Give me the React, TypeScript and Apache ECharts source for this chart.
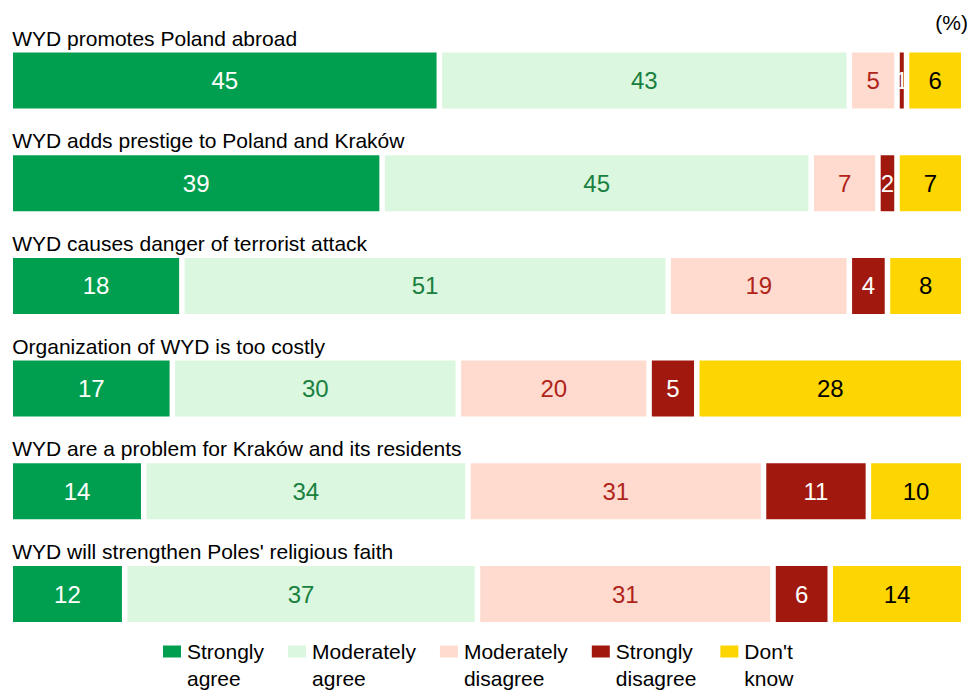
import React, { useEffect, useRef } from "react";
import * as echarts from "echarts";

const categories = [
  "WYD promotes Poland abroad",
  "WYD adds prestige to Poland and Kraków",
  "WYD causes danger of terrorist attack",
  "Organization of WYD is too costly",
  "WYD are a problem for Kraków and its residents",
  "WYD will strengthen Poles' religious faith",
];

const seriesNames = [
  "Strongly agree",
  "Moderately agree",
  "Moderately disagree",
  "Strongly disagree",
  "Don't know",
];

const stronglyAgree = [45, 39, 18, 17, 14, 12];
const moderatelyAgree = [43, 45, 51, 30, 34, 37];
const moderatelyDisagree = [5, 7, 19, 20, 31, 31];
const stronglyDisagree = [1, 2, 4, 5, 11, 6];
const dontKnow = [6, 7, 8, 28, 10, 14];

const seriesValues = [
  stronglyAgree,
  moderatelyAgree,
  moderatelyDisagree,
  stronglyDisagree,
  dontKnow,
];

const fillColors = ["#009F4F", "#DBF7DF", "#FFDBCF", "#A1190E", "#FDD500"];
const labelColors = ["#FFFFFF", "#1A8040", "#B0241A", "#FFFFFF", "#000000"];

const FONT = "'Liberation Sans', Arial, sans-serif";

export default function App() {
  const ref = useRef<HTMLDivElement>(null);

  useEffect(() => {
    if (!ref.current) return;
    const chart = echarts.init(ref.current, undefined, { renderer: "svg" });
    const option: any = {
      animation: false,
      backgroundColor: "#FFFFFF",
      textStyle: { fontFamily: FONT },
      title: {
        text: "(%)",
        right: 3,
        top: 12,
        padding: 0,
        textStyle: { fontSize: 21, fontWeight: "normal", color: "#000", fontFamily: FONT },
      },
      legend: {
        data: seriesNames,
        left: 156,
        top: 606,
        itemWidth: 20,
        itemHeight: 14,
        itemGap: 22,
        icon: "rect",
        selectedMode: false,
        formatter: (name: string) => "\n" + name.replace(" ", "\n"),
        textStyle: {
          fontSize: 21,
          fontFamily: FONT,
          color: "#000",
          lineHeight: 27,
        },
      },
      grid: {
        left: 10.25,
        right: 7.25,
        top: 29.15,
        bottom: 44.65,
        containLabel: false,
        outerBoundsMode: "none",
      },
      xAxis: {
        type: "value",
        min: 0,
        max: 100,
        show: false,
      },
      yAxis: {
        type: "category",
        data: categories,
        inverse: true,
        axisLine: { show: false },
        axisTick: { show: false },
        splitLine: { show: false },
        z: 10,
        axisLabel: {
          inside: true,
          interval: 0,
          margin: 2,
          align: "left",
          verticalAlign: "bottom",
          lineHeight: 85,
          fontSize: 21,
          fontFamily: FONT,
          color: "#000",
        },
      },
      series: seriesNames.map((name, i) => ({
        name,
        type: "bar",
        stack: "total",
        barWidth: 61.5,
        data: seriesValues[i],
        itemStyle: {
          color: fillColors[i],
          borderColor: "#FFFFFF",
          borderWidth: 2.75,
        },
        label: {
          show: true,
          position: "inside",
          fontSize: 24,
          fontFamily: FONT,
          color: labelColors[i],
        },
      })),
    };
    chart.setOption(option);
    return () => chart.dispose();
  }, []);

  return (
    <div
      ref={ref}
      style={{ position: "fixed", left: 0, top: 0, width: 971, height: 690, background: "#fff" }}
    />
  );
}
